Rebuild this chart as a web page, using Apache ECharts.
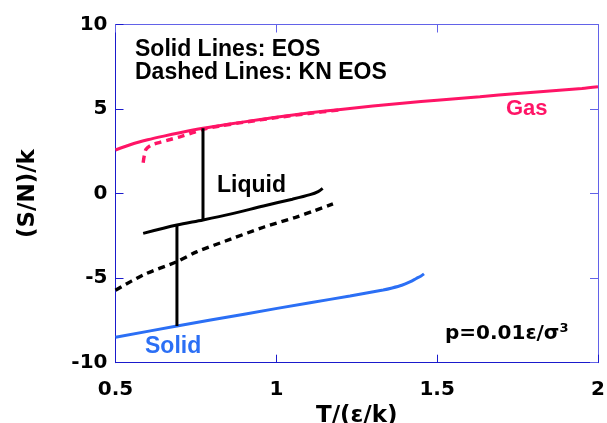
<!DOCTYPE html>
<html>
<head>
<meta charset="utf-8">
<script src="https://cdn.jsdelivr.net/npm/echarts@6/dist/echarts.min.js"></script>
<style>
  html, body { margin: 0; padding: 0; background: #fff; }
  #chart { width: 607px; height: 423px; }
</style>
</head>
<body>
<div id="chart"></div>
<script>
// Entropy per particle vs temperature at p = 0.01 ε/σ³
const xTicks = [0.5, 1, 1.5, 2];
const yTicks = [-10, -5, 0, 5, 10];

// Gas branch (EOS, solid)
const gasT   = [0.5, 0.55, 0.6, 0.65, 0.7, 0.772, 0.85, 0.95, 1.011, 1.105, 1.2, 1.3, 1.4, 1.5, 1.633, 1.75, 1.85, 1.95, 2.0];
const gasS   = [2.58, 2.92, 3.18, 3.4, 3.6, 3.86, 4.1, 4.38, 4.55, 4.78, 4.98, 5.18, 5.36, 5.52, 5.73, 5.92, 6.07, 6.22, 6.32];
// Gas branch (KN EOS, dashed)
const gasKnT = [0.586, 0.59, 0.595, 0.61, 0.638, 0.67, 0.70, 0.74, 0.772, 0.82, 0.9, 1.0, 1.1, 1.2];
const gasKnS = [1.83, 2.3, 2.62, 2.85, 3.03, 3.2, 3.36, 3.6, 3.8, 3.98, 4.22, 4.49, 4.74, 4.95];

// Liquid branch
const liqT   = [0.586, 0.691, 0.772, 0.86, 0.96, 1.05, 1.105, 1.13, 1.144];
const liqS   = [-2.35, -1.86, -1.56, -1.2, -0.73, -0.33, -0.06, 0.12, 0.31];
const liqKnT = [0.5, 0.586, 0.691, 0.752, 0.86, 0.96, 1.06, 1.12, 1.176];
const liqKnS = [-5.72, -4.81, -4.02, -3.45, -2.68, -1.99, -1.4, -1.0, -0.61];

// Solid branch
const solT   = [0.5, 0.691, 0.9, 1.105, 1.229, 1.332, 1.36, 1.39, 1.415, 1.435, 1.45, 1.459];
const solS   = [-8.5, -7.83, -7.13, -6.45, -6.06, -5.7, -5.58, -5.42, -5.22, -5.02, -4.87, -4.75];

// Phase transitions (vertical jumps)
const boilT = 0.772, boilS = [-1.56, 3.86];
const meltT = 0.691, meltS = [-7.83, -1.86];

const PINK = '#ff1466';
const BLUE = '#2b6ff5';
const AXIS = '#1a1acc';
const FRAME = '#6262e8';
const TICK_FONT = 'DejaVu Sans';
const TEXT_FONT = '"Liberation Sans"';

const zip = (xs, ys) => xs.map((x, i) => [x, ys[i]]);

const chart = echarts.init(document.getElementById('chart'), null, { renderer: 'canvas' });

function line(name, data, color, dashed) {
  return {
    name, type: 'line', data, showSymbol: false, smooth: 0.3, silent: true,
    lineStyle: { color, width: dashed ? 3.4 : 3, type: dashed ? [7, 5] : 'solid', cap: 'butt' },
    z: 3
  };
}

function frameAxis(extra) {
  return Object.assign({
    type: 'value',
    axisLine: { onZero: false, lineStyle: { color: FRAME, width: 1 } },
    axisTick: { inside: true, length: 8, lineStyle: { color: FRAME, width: 1 } },
    axisLabel: { show: false }, splitLine: { show: false }
  }, extra);
}

const tickLabel = { fontFamily: TICK_FONT, fontWeight: 'bold', fontSize: 20, color: '#000' };
const titleStyle = { fontFamily: TICK_FONT, fontWeight: 'bold', fontSize: 23, color: '#000' };

chart.setOption({
  animation: false,
  backgroundColor: '#fff',
  grid: { left: 115.5, right: 9, top: 24.5, bottom: 60.3, containLabel: false, outerBoundsMode: 'none' },
  xAxis: [{
    type: 'value', min: xTicks[0], max: xTicks[xTicks.length - 1], interval: 0.5,
    axisLine: { onZero: false, lineStyle: { color: AXIS, width: 1 } },
    axisTick: { inside: true, length: 8, lineStyle: { color: AXIS, width: 1 } },
    axisLabel: Object.assign({ margin: 17, formatter: v => String(v) }, tickLabel),
    splitLine: { show: false },
    name: 'T/(ε/k)', nameLocation: 'middle', nameGap: 41,
    nameTextStyle: titleStyle
  }, frameAxis({ position: 'top', min: 0.5, max: 2, interval: 0.5 })],
  yAxis: [{
    type: 'value', min: yTicks[0], max: yTicks[yTicks.length - 1], interval: 5,
    axisLine: { onZero: false, lineStyle: { color: AXIS, width: 1 } },
    axisTick: { inside: true, length: 8, lineStyle: { color: AXIS, width: 1 } },
    axisLabel: Object.assign({ margin: 8 }, tickLabel),
    splitLine: { show: false },
    name: '(S/N)/k', nameLocation: 'middle', nameGap: 76, nameRotate: 90,
    nameTextStyle: titleStyle
  }, frameAxis({ position: 'right', min: -10, max: 10, interval: 5 })],
  series: [
    line('gas', zip(gasT, gasS), PINK, false),
    line('gasKN', zip(gasKnT, gasKnS), PINK, true),
    line('liquid', zip(liqT, liqS), '#000', false),
    line('liquidKN', zip(liqKnT, liqKnS), '#000', true),
    line('solid', zip(solT, solS), BLUE, false),
    line('boil', boilS.map(s => [boilT, s]), '#000', false),
    line('melt', meltS.map(s => [meltT, s]), '#000', false)
  ],
  graphic: [
    { type: 'text', left: 135, top: 38, style: { text: 'Solid Lines: EOS', font: 'bold 23px ' + TEXT_FONT, fill: '#000' } },
    { type: 'text', left: 135, top: 61, style: { text: 'Dashed Lines: KN EOS', font: 'bold 23px ' + TEXT_FONT, fill: '#000' } },
    { type: 'text', left: 506, top: 98, style: { text: 'Gas', font: 'bold 22px ' + TEXT_FONT, fill: PINK } },
    { type: 'text', left: 217, top: 174, style: { text: 'Liquid', font: 'bold 23px ' + TEXT_FONT, fill: '#000' } },
    { type: 'text', left: 145, top: 335, style: { text: 'Solid', font: 'bold 23px ' + TEXT_FONT, fill: BLUE } },
    { type: 'text', left: 445, top: 322, style: {
        rich: {
          a: { font: 'bold 20px "DejaVu Sans"', fill: '#000' },
          s: { font: 'bold 13px "DejaVu Sans"', fill: '#000', verticalAlign: 'top', padding: [0, 0, 10, 0] }
        },
        text: '{a|p=0.01ε/σ}{s|3}'
      } }
  ]
});
</script>
</body>
</html>
